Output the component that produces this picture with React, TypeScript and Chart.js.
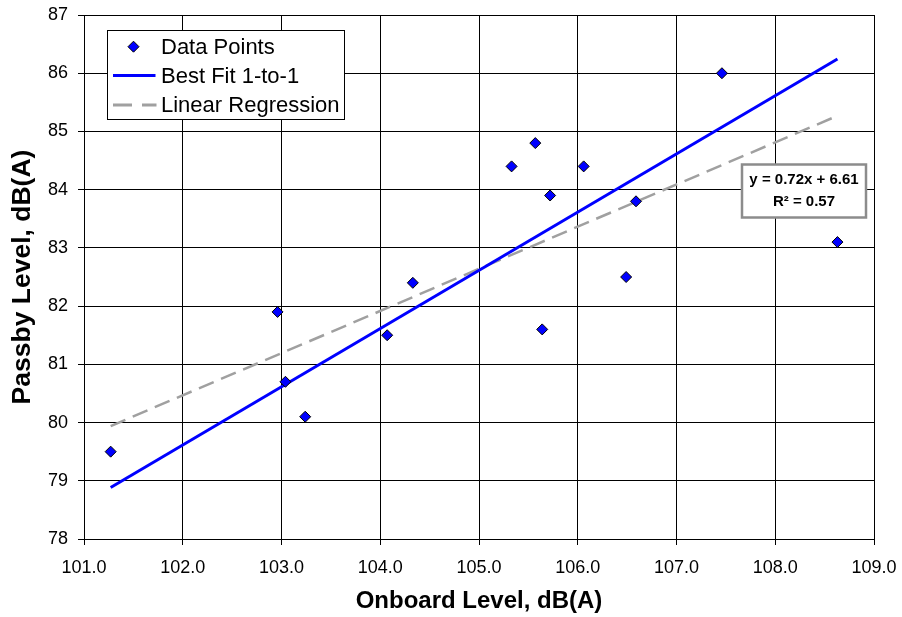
import React, { useEffect, useRef } from "react";
import { Chart, registerables } from "chart.js";

Chart.register(...registerables);

// Measured levels for each vehicle pass, dB(A)
const onboardLevel = [101.27, 102.96, 103.04, 103.24, 104.07, 104.33, 105.33, 105.57, 105.64, 105.72, 106.06, 106.49, 106.59, 107.46, 108.63];
const passbyLevel = [79.5, 81.9, 80.7, 80.1, 81.5, 82.4, 84.4, 84.8, 81.6, 83.9, 84.4, 82.5, 83.8, 86.0, 83.1];

// Axis ranges
const xTicks = [101, 102, 103, 104, 105, 106, 107, 108, 109];
const yTicks = [78, 79, 80, 81, 82, 83, 84, 85, 86, 87];

// Series names
const seriesLabels = ["Data Points", "Best Fit 1-to-1", "Linear Regression"];

// Linear regression of passby on onboard level
const regSlope = 0.7241;
const regIntercept = 6.61;
const regR2 = 0.57;

const FONT = "'Liberation Sans', Arial, Helvetica, sans-serif";

const mean = (a: number[]) => a.reduce((s, v) => s + v, 0) / a.length;

// Keep the plot area fixed by the layout padding alone
const clearScalePadding = (scale: any) => {
  scale.paddingTop = 0;
  scale.paddingBottom = 0;
  scale.paddingLeft = 0;
  scale.paddingRight = 0;
};

export default function App() {
  const canvasRef = useRef<HTMLCanvasElement | null>(null);

  useEffect(() => {
    const canvas = canvasRef.current;
    if (!canvas) return;

    const xMin = Math.min(...onboardLevel);
    const xMax = Math.max(...onboardLevel);
    // 1-to-1 line shifted by the mean difference
    const offset = mean(passbyLevel) - mean(onboardLevel);

    const points = onboardLevel.map((x, i) => ({ x, y: passbyLevel[i] }));
    const oneToOne = [xMin, xMax].map((x) => ({ x, y: x + offset }));
    const regression = [xMin, xMax].map((x) => ({ x, y: regSlope * x + regIntercept }));

    const overlay = {
      id: "overlay",
      afterDraw(chart: any) {
        const { ctx, chartArea } = chart;
        ctx.save();

        // Legend box in the upper left of the plot
        const lx = chartArea.left + 23.5;
        const ly = chartArea.top + 15.5;
        const lw = 237;
        const lh = 89;
        ctx.fillStyle = "#ffffff";
        ctx.fillRect(lx, ly, lw, lh);
        ctx.strokeStyle = "#000000";
        ctx.lineWidth = 1;
        ctx.strokeRect(lx, ly, lw, lh);

        const rows = [ly + 16.2, ly + 45, ly + 74.5];
        const textX = lx + 53.5;

        // diamond marker
        const cx = lx + 26;
        const cy = rows[0];
        ctx.beginPath();
        ctx.moveTo(cx, cy - 5.5);
        ctx.lineTo(cx + 5.5, cy);
        ctx.lineTo(cx, cy + 5.5);
        ctx.lineTo(cx - 5.5, cy);
        ctx.closePath();
        ctx.fillStyle = "#0000ff";
        ctx.fill();
        ctx.strokeStyle = "#000000";
        ctx.lineWidth = 1;
        ctx.stroke();

        // solid blue sample
        ctx.beginPath();
        ctx.moveTo(lx + 5.5, rows[1]);
        ctx.lineTo(lx + 48, rows[1]);
        ctx.strokeStyle = "#0000ff";
        ctx.lineWidth = 3;
        ctx.stroke();

        // dashed grey sample
        ctx.beginPath();
        ctx.setLineDash([19, 10]);
        ctx.moveTo(lx + 5.5, rows[2]);
        ctx.lineTo(lx + 49, rows[2]);
        ctx.strokeStyle = "#a0a0a0";
        ctx.lineWidth = 3;
        ctx.stroke();
        ctx.setLineDash([]);

        ctx.fillStyle = "#000000";
        ctx.font = `22px ${FONT}`;
        ctx.textAlign = "left";
        ctx.textBaseline = "middle";
        seriesLabels.forEach((t, i) => ctx.fillText(t, textX, rows[i] + 1));

        // Regression equation box
        const bx = chartArea.right - 132;
        const by = chartArea.top + 149.5;
        const bw = 124;
        const bh = 53;
        ctx.fillStyle = "#ffffff";
        ctx.fillRect(bx, by, bw, bh);
        ctx.strokeStyle = "#8c8c8c";
        ctx.lineWidth = 2.5;
        ctx.strokeRect(bx, by, bw, bh);

        ctx.fillStyle = "#000000";
        ctx.font = `bold 15px ${FONT}`;
        ctx.textAlign = "center";
        ctx.textBaseline = "middle";
        const mid = bx + bw / 2;
        ctx.fillText(`y = ${regSlope.toFixed(2)}x + ${regIntercept.toFixed(2)}`, mid, by + 15);
        ctx.fillText(`R² = ${regR2.toFixed(2)}`, mid, by + 37);

        ctx.restore();
      },
    };

    const chart = new Chart(canvas, {
      type: "scatter",
      data: {
        datasets: [
          {
            label: seriesLabels[0],
            data: points,
            pointStyle: "rectRot",
            pointRadius: 5.5,
            pointBackgroundColor: "#0000ff",
            pointBorderColor: "#000000",
            pointBorderWidth: 1,
            showLine: false,
            order: 0,
          },
          {
            label: seriesLabels[1],
            data: oneToOne,
            showLine: true,
            borderColor: "#0000ff",
            borderWidth: 3,
            pointRadius: 0,
            order: 1,
          },
          {
            label: seriesLabels[2],
            data: regression,
            showLine: true,
            borderColor: "#a0a0a0",
            borderWidth: 2.5,
            borderDash: [16, 8],
            pointRadius: 0,
            order: 2,
          },
        ],
      },
      options: {
        responsive: false,
        animation: false,
        layout: { padding: { top: 15, right: 28, left: 0, bottom: 0 } },
        plugins: {
          legend: { display: false },
          tooltip: { enabled: false },
        },
        scales: {
          x: {
            type: "linear",
            min: xTicks[0],
            max: xTicks[xTicks.length - 1],
            afterBuildTicks: (scale: any) => {
              scale.ticks = xTicks.map((v) => ({ value: v }));
            },
            afterFit: (scale: any) => {
              scale.height = 78;
              clearScalePadding(scale);
            },
            ticks: {
              color: "#000000",
              font: { family: FONT, size: 18 },
              padding: 12,
              callback: (v: any) => Number(v).toFixed(1),
            },
            grid: { color: "#000000", lineWidth: 1, tickLength: 6, drawTicks: true },
            border: { color: "#000000", width: 1 },
            title: {
              display: true,
              text: "Onboard Level, dB(A)",
              color: "#000000",
              font: { family: FONT, size: 24, weight: "bold", lineHeight: 1.2 },
              padding: { top: 0, bottom: 1.5 },
            },
          },
          y: {
            type: "linear",
            min: yTicks[0],
            max: yTicks[yTicks.length - 1],
            afterBuildTicks: (scale: any) => {
              scale.ticks = yTicks.map((v) => ({ value: v }));
            },
            afterFit: (scale: any) => {
              scale.width = 84;
              clearScalePadding(scale);
            },
            ticks: {
              color: "#000000",
              font: { family: FONT, size: 18 },
              padding: 10,
              callback: (v: any) => String(v),
            },
            grid: { color: "#000000", lineWidth: 1, tickLength: 6, drawTicks: true },
            border: { color: "#000000", width: 1 },
            title: {
              display: true,
              text: "Passby Level, dB(A)",
              color: "#000000",
              font: { family: FONT, size: 26.5, weight: "bold", lineHeight: 1.2 },
              padding: { top: 7, bottom: 0 },
            },
          },
        },
      },
      plugins: [overlay],
    } as any);

    return () => chart.destroy();
  }, []);

  return (
    <div style={{ position: "absolute", left: 0, top: 0, width: 902, height: 617, background: "#ffffff" }}>
      <canvas ref={canvasRef} width={902} height={617} style={{ display: "block" }} />
    </div>
  );
}
